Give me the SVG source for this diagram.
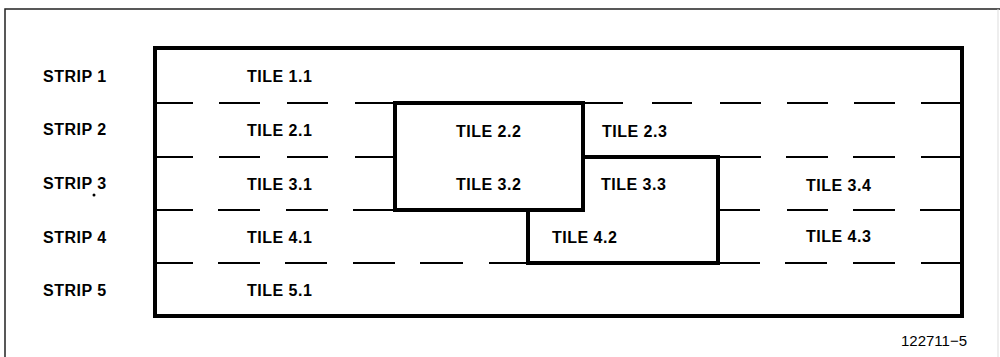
<svg xmlns="http://www.w3.org/2000/svg" width="1000" height="357" viewBox="0 0 1000 357">
<style>
.frame{fill:none;stroke:#222;stroke-width:1.5}
.thick{fill:none;stroke:#000;stroke-width:4;stroke-linejoin:miter}
.dash{stroke:#000;stroke-width:2}
.lbl{font-family:"Liberation Sans",Arial,sans-serif;font-weight:bold;font-size:16px;fill:#000;letter-spacing:0.5px}
.id{font-family:"Liberation Sans",Arial,sans-serif;font-size:15px;fill:#000}
</style>
<rect width="1000" height="357" fill="#fff"/>
<path class="frame" d="M5,357 V9 H1000"/>
<line x1="998" y1="9" x2="998" y2="357" stroke="#ddd" stroke-width="1"/>

<g id="strip-labels">
<text class="lbl" x="43" y="82">STRIP 1</text>
<text class="lbl" x="43" y="135">STRIP 2</text>
<text class="lbl" x="43" y="189">STRIP 3</text>
<circle cx="94" cy="195" r="1.5" fill="#000"/>
<text class="lbl" x="43" y="243">STRIP 4</text>
<text class="lbl" x="43" y="296">STRIP 5</text>
</g>

<g id="connectors">
<g class="dash">
<line x1="155" y1="103" x2="193" y2="103"/><line x1="219" y1="103" x2="260" y2="103"/><line x1="287" y1="103" x2="328" y2="103"/><line x1="355" y1="103" x2="395" y2="103"/>
<line x1="583" y1="103" x2="623" y2="103"/><line x1="652" y1="103" x2="692" y2="103"/><line x1="720" y1="103" x2="761" y2="103"/><line x1="787" y1="103" x2="828" y2="103"/><line x1="854" y1="103" x2="895" y2="103"/><line x1="921" y1="103" x2="962" y2="103"/>
<line x1="155" y1="157" x2="193" y2="157"/><line x1="219" y1="157" x2="260" y2="157"/><line x1="287" y1="157" x2="328" y2="157"/><line x1="355" y1="157" x2="395" y2="157"/>
<line x1="718" y1="157" x2="761" y2="157"/><line x1="786" y1="157" x2="828" y2="157"/><line x1="853" y1="157" x2="895" y2="157"/><line x1="921" y1="157" x2="962" y2="157"/>
<line x1="155" y1="210" x2="193" y2="210"/><line x1="218" y1="210" x2="260" y2="210"/><line x1="286" y1="210" x2="328" y2="210"/><line x1="353" y1="210" x2="395" y2="210"/>
<line x1="718" y1="210" x2="760" y2="210"/><line x1="787" y1="210" x2="828" y2="210"/><line x1="853" y1="210" x2="895" y2="210"/><line x1="920" y1="210" x2="962" y2="210"/>
<line x1="155" y1="263" x2="193" y2="263"/><line x1="218" y1="263" x2="260" y2="263"/><line x1="285" y1="263" x2="327" y2="263"/><line x1="353" y1="263" x2="395" y2="263"/><line x1="420" y1="263" x2="463" y2="263"/><line x1="489" y1="263" x2="528" y2="263"/>
<line x1="718" y1="263" x2="760" y2="263"/><line x1="785" y1="263" x2="827" y2="263"/><line x1="853" y1="263" x2="895" y2="263"/><line x1="921" y1="263" x2="962" y2="263"/>
</g>
</g>

<g id="plane">
<rect class="thick" x="155" y="48" width="807" height="268"/>
</g>

<g id="tile-2-2-3-2">
<rect class="thick" x="395" y="103" width="188" height="107"/>
</g>

<g id="tile-3-3-4-2">
<path class="thick" d="M583,157 H718 V263 H528 V210 H583"/>
</g>

<g id="tiles">
<text class="lbl" x="247" y="82">TILE 1.1</text>
<text class="lbl" x="247" y="136">TILE 2.1</text>
<text class="lbl" x="456" y="137">TILE 2.2</text>
<text class="lbl" x="602" y="137">TILE 2.3</text>
<text class="lbl" x="247" y="190">TILE 3.1</text>
<text class="lbl" x="456" y="190">TILE 3.2</text>
<text class="lbl" x="601" y="190">TILE 3.3</text>
<text class="lbl" x="806" y="191">TILE 3.4</text>
<text class="lbl" x="247" y="243">TILE 4.1</text>
<text class="lbl" x="552" y="243">TILE 4.2</text>
<text class="lbl" x="806" y="242">TILE 4.3</text>
<text class="lbl" x="247" y="296">TILE 5.1</text>
</g>

<text class="id" x="901" y="346">122711−5</text>
</svg>
